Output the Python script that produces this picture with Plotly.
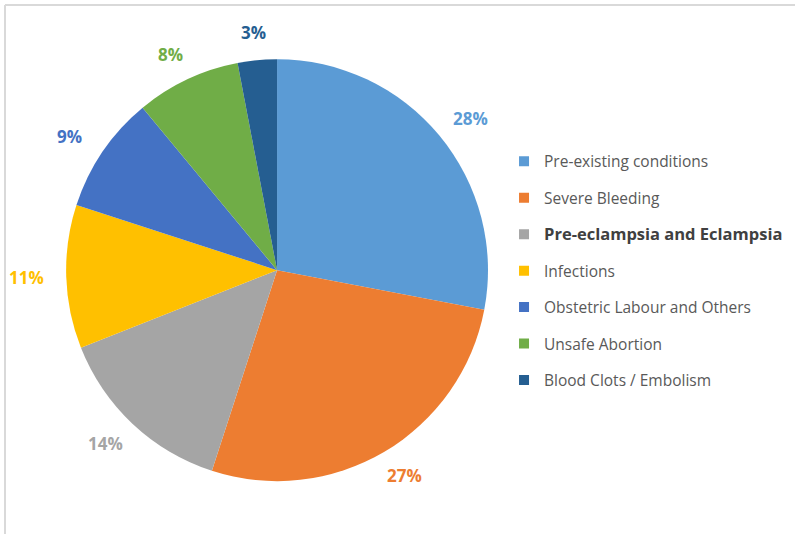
import math
import plotly.graph_objects as go

categories = ["Pre-existing conditions", "Severe Bleeding", "Pre-eclampsia and Eclampsia",
              "Infections", "Obstetric Labour and Others", "Unsafe Abortion",
              "Blood Clots / Embolism"]
values = [28, 27, 14, 11, 9, 8, 3]
colors = ["#5B9BD5", "#ED7D31", "#A5A5A5", "#FFC000", "#4472C4", "#70AD47", "#255E91"]
highlight = "Pre-eclampsia and Eclampsia"

W, H = 795, 534
dom_x = [0.083, 0.614]
dom_y = [0.099, 0.889]

fig = go.Figure()
fig.add_trace(go.Pie(
    labels=categories, values=values, sort=False, direction="clockwise", rotation=0,
    marker=dict(colors=colors, line=dict(width=0)),
    textinfo="none", showlegend=False, hoverinfo="label+percent",
    domain=dict(x=dom_x, y=dom_y),
))

# outside percentage labels placed along each slice's mid-angle
cx = (dom_x[0] + dom_x[1]) / 2 * W
cy = (dom_y[0] + dom_y[1]) / 2 * H
r = min((dom_x[1] - dom_x[0]) * W, (dom_y[1] - dom_y[0]) * H) / 2
total = sum(values)
annotations = []
cum = 0
for v, col in zip(values, colors):
    mid = (cum + v / 2) / total * 2 * math.pi
    cum += v
    px = cx + 1.19 * r * math.sin(mid)
    py = cy + 1.13 * r * math.cos(mid)
    annotations.append(dict(
        x=px / W, y=py / H, xref="paper", yref="paper", showarrow=False,
        text="%d%%" % round(v / total * 100), xanchor="center", yanchor="middle",
        font=dict(family="Open Sans", size=17, color=col, weight="bold"),
    ))

for i, (c, col) in enumerate(zip(categories, colors)):
    name = c
    if c == highlight:
        name = '<span style="font-size:16.5px;color:#404040"><b>%s</b></span>' % c
    fig.add_trace(go.Scatter(
        x=[None], y=[None], mode="markers", name=name,
        marker=dict(symbol="square", size=10, color=col),
        legendgroup="g%d" % i, showlegend=True,
    ))

fig.update_layout(
    width=W, height=H, margin=dict(l=0, r=0, t=0, b=0),
    paper_bgcolor="white", plot_bgcolor="white",
    xaxis=dict(visible=False), yaxis=dict(visible=False),
    annotations=annotations,
    legend=dict(x=0.634, y=0.493, xanchor="left", yanchor="middle",
                font=dict(family="Open Sans", size=15.5, color="#595959"),
                tracegroupgap=13.3, bgcolor="rgba(0,0,0,0)"),
    shapes=[
        dict(type="line", xref="paper", yref="paper", x0=0.0063, x1=0.0063, y0=0, y1=0.9906,
             line=dict(color="#D9D9D9", width=2)),
        dict(type="line", xref="paper", yref="paper", x0=0.0063, x1=1, y0=0.9906, y1=0.9906,
             line=dict(color="#D9D9D9", width=2)),
    ],
)

fig.write_html("out.html")
